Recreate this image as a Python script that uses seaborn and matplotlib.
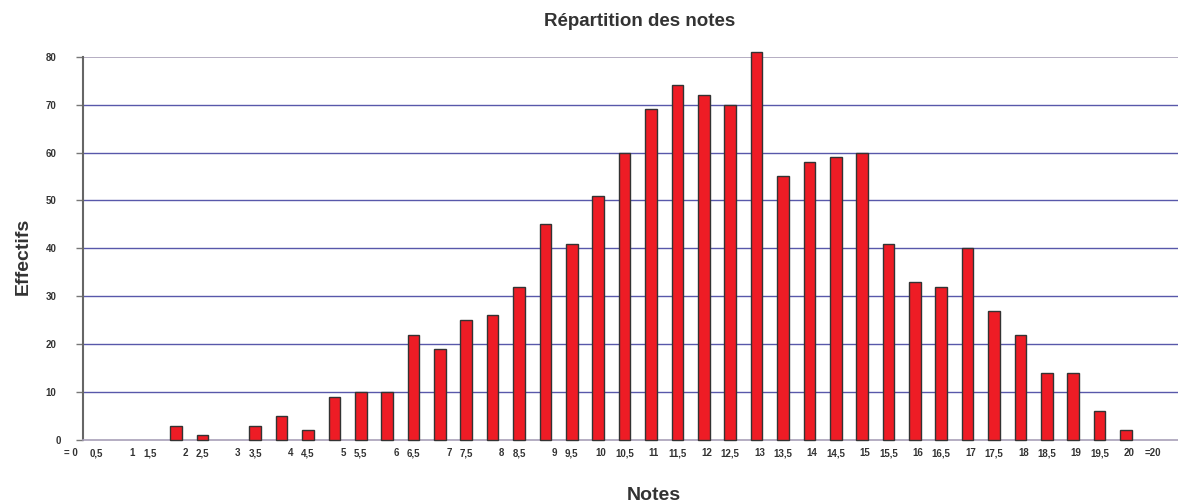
import matplotlib
matplotlib.use("Agg")
import matplotlib.pyplot as plt
import matplotlib.transforms as mtransforms
import seaborn as sns
import pandas as pd

categories = ["= 0", "0,5", "1", "1,5", "2", "2,5", "3", "3,5", "4", "4,5",
              "5", "5,5", "6", "6,5", "7", "7,5", "8", "8,5", "9", "9,5",
              "10", "10,5", "11", "11,5", "12", "12,5", "13", "13,5", "14", "14,5",
              "15", "15,5", "16", "16,5", "17", "17,5", "18", "18,5", "19", "19,5",
              "20", "=20"]
effectifs = [0, 0, 0, 0, 3, 1, 0, 3, 5, 2,
             9, 10, 10, 22, 19, 25, 26, 32, 45, 41,
             51, 60, 69, 74, 72, 70, 81, 55, 58, 59,
             60, 41, 33, 32, 40, 27, 22, 14, 14, 6,
             2, 0]
y_ticks = [0, 10, 20, 30, 40, 50, 60, 70, 80]

df = pd.DataFrame({"note": categories, "effectif": effectifs})

sns.set_theme(style="white")
plt.rcParams["font.family"] = ["Liberation Sans", "DejaVu Sans"]

W, H = 1178, 504
fig = plt.figure(figsize=(W / 100, H / 100), dpi=100)
ax = fig.add_axes([83 / W, 1 - 440 / H, (1178 - 83) / W, (440 - 56.7) / H])

sns.barplot(data=df, x="note", y="effectif", order=categories, ax=ax,
            color="#ee1c25", saturation=1, width=0.44,
            edgecolor="#333333", linewidth=1.0, zorder=3)
for p in ax.patches:
    p.set_clip_on(False)
    if p.get_height() == 0:
        p.set_visible(False)

ax.set_xlim(0.477, 41.97)
ax.set_ylim(0, 80)
ax.set_yticks(y_ticks)
ax.set_yticklabels([str(v) for v in y_ticks], fontsize=7, fontweight="bold", color="#333333")
ax.tick_params(axis="y", which="both", left=True, length=5, width=1, color="#777777", pad=14)
for lab in ax.get_yticklabels():
    if lab.get_text() == "0":
        lab.set_transform(lab.get_transform() +
                          mtransforms.ScaledTranslation(4 / 100, 0, fig.dpi_scale_trans))
ax.set_xticks([])
ax.set_xlabel("")
ax.set_ylabel("")

for v in y_ticks[1:-1]:
    ax.axhline(v, color="#5858aa", lw=1.0, zorder=1)
ax.axhline(80, color="#a8a0b8", lw=1.2, zorder=1)

for s in ["top", "right"]:
    ax.spines[s].set_visible(False)
ax.spines["left"].set_color("#666666")
ax.spines["left"].set_linewidth(1.5)
ax.spines["bottom"].set_color("#a8a0b8")
ax.spines["bottom"].set_linewidth(1.2)

trans = ax.get_xaxis_transform()
for i, lab in enumerate(categories):
    if "," in lab or "=" in lab:
        off = 0.0
    elif len(lab) == 1:
        off = 0.34
    else:
        off = 0.11
    ax.text(i + off, -0.034, lab, transform=trans, ha="center", va="center",
            fontsize=7, fontweight="bold", color="#333333", clip_on=False)

fig.text(640 / W, 1 - 22 / H, "Répartition des notes", ha="center", va="center",
         fontsize=13.5, fontweight="bold", color="#333333")
fig.text(654 / W, 1 - 495 / H, "Notes", ha="center", va="center",
         fontsize=14, fontweight="bold", color="#333333")
fig.text(23 / W, 1 - 256.5 / H, "Effectifs", ha="center", va="center", rotation=90,
         fontsize=14, fontweight="bold", color="#333333")

fig.savefig("out.png", dpi=100, facecolor="white")
